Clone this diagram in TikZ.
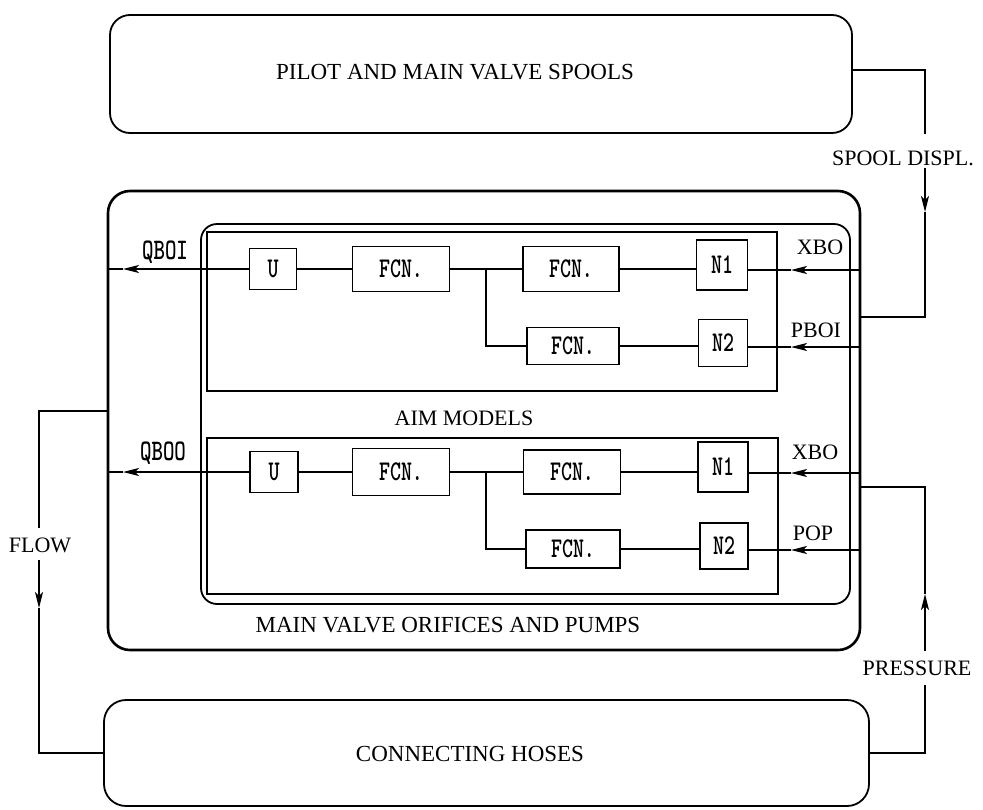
\documentclass[tikz,border=0pt]{standalone}
\usepackage{fontspec}
\usepackage{graphicx}
\setmainfont{Liberation Serif}
\usetikzlibrary{arrows.meta}

\newcommand{\titlefont}{\fontsize{23}{26}\selectfont}
\newcommand{\sigfont}{\fontsize{22}{24}\selectfont}
\newcommand{\blkfont}{\ttfamily\bfseries\fontsize{22}{24}\selectfont}
\newcommand{\qfont}{\ttfamily\bfseries\fontsize{23}{26}\selectfont}
\newcommand{\tall}[1]{\scalebox{0.95}[1.3]{#1}}

\begin{document}
\begin{tikzpicture}[x=1pt, y=-1pt,
  panel/.style={draw, line width=1.8pt, rounded corners=20pt},
  frame/.style={draw, line width=1.8pt},
  blk/.style={draw, line width=1.4pt, inner sep=0pt, font=\blkfont},
  link/.style={line width=1.3pt},
  tip/.style={-{Stealth[length=16pt,width=8pt,inset=4pt]}},
  lbl/.style={font=\sigfont, inner sep=2pt}]

  \useasboundingbox (0,0) rectangle (983,809);

  % big panels
  \node[panel, minimum width=742pt, minimum height=118pt] (pilot) at (481,74) {};
  \node[panel, line width=2.6pt, rounded corners=22pt,
    minimum width=752pt, minimum height=459pt] (mvop) at (484,420.5) {};
  \node[panel, rounded corners=16pt,
    minimum width=649pt, minimum height=380pt] (aim) at (525.5,414) {};
  \node[frame, minimum width=570pt, minimum height=159pt] (upper) at (492,311.5) {};
  \node[frame, minimum width=571pt, minimum height=156pt] (lower) at (492.5,516) {};
  \node[panel, rounded corners=22pt,
    minimum width=765pt, minimum height=106pt] (hoses) at (486.5,753) {};

  \node[font=\titlefont] (pilottxt) at (455,72) {PILOT AND MAIN VALVE SPOOLS};
  \node[font=\titlefont] (mvoptxt) at (448,625) {MAIN VALVE ORIFICES AND PUMPS};
  \node[font=\sigfont] (aimtxt) at (464,418) {AIM MODELS};
  \node[font=\titlefont] (hosetxt) at (470,754) {CONNECTING HOSES};

  % upper model
  \node[blk, minimum width=47pt, minimum height=41pt] (u1) at (273,269) {\tall{U}};
  \node[blk, minimum width=97pt, minimum height=45pt] (f1) at (401,269) {\tall{FCN.}};
  \node[blk, minimum width=96pt, minimum height=45pt] (f2) at (571,269) {\tall{FCN.}};
  \node[blk, minimum width=51pt, minimum height=50pt] (n1) at (722,265) {\tall{N1}};
  \node[blk, minimum width=92pt, minimum height=37pt] (f3) at (573,346) {\tall{FCN.}};
  \node[blk, minimum width=49pt, minimum height=47pt] (n2) at (723,343) {\tall{N2}};
  \coordinate (j1) at (486,269);
  \draw[link] (u1) -- (f1);
  \draw[link] (f1) -- (f2);
  \draw[link] (j1) |- (f3.west);
  \draw[link] (f2.east) -- (f2.east -| n1.west);
  \draw[link] (f3.east) -- (f3.east -| n2.west);

  % lower model
  \node[blk, minimum width=48pt, minimum height=41pt] (u2) at (274,472) {\tall{U}};
  \node[blk, minimum width=97pt, minimum height=47pt] (f4) at (401,472) {\tall{FCN.}};
  \node[blk, minimum width=97pt, minimum height=44pt] (f5) at (572,472) {\tall{FCN.}};
  \node[blk, minimum width=50pt, minimum height=50pt] (n3) at (723,467) {\tall{N1}};
  \node[blk, minimum width=94pt, minimum height=38pt] (f6) at (573,549) {\tall{FCN.}};
  \node[blk, minimum width=48pt, minimum height=46pt] (n4) at (724,546) {\tall{N2}};
  \coordinate (j2) at (486,472);
  \draw[link] (u2) -- (f4);
  \draw[link] (f4) -- (f5);
  \draw[link] (j2) |- (f6.west);
  \draw[link] (f5.east) -- (f5.east -| n3.west);
  \draw[link] (f6.east) -- (f6.east -| n4.west);

  % signals in and out
  \coordinate (q1tip) at (123,269);
  \coordinate (q2tip) at (123,472);
  \draw[link, tip] (u1.west) -- (q1tip);
  \draw[link] (q1tip) -- (q1tip -| mvop.west);
  \draw[link, tip] (u2.west) -- (q2tip);
  \draw[link] (q2tip) -- (q2tip -| mvop.west);
  \node[lbl, font=\qfont] (qboi) at (165,252) {\tall{QBOI}};
  \node[lbl, font=\qfont] (qboo) at (163,453) {\tall{QBOO}};

  \coordinate (x1tip) at (791,270);
  \coordinate (p1tip) at (791,347);
  \coordinate (x2tip) at (791,473);
  \coordinate (p2tip) at (791,550);
  \foreach \t/\n in {x1tip/n1, p1tip/n2, x2tip/n3, p2tip/n4} {
    \draw[link, tip] (\t -| mvop.east) -- (\t);
    \draw[link] (\t) -- (\t -| \n.east);
  }
  \node[lbl] (xbo1) at (820,247) {XBO};
  \node[lbl] (pboi) at (816,330) {PBOI};
  \node[lbl] (xbo2) at (815,452) {XBO};
  \node[lbl] (pop) at (813,533) {POP};

  % spool displacement loop
  \node[lbl, anchor=base, inner ysep=3pt, text height=28pt, text depth=0pt] (spool) at (903,165) {SPOOL DISPL.};
  \coordinate (sdx) at (925,317);
  \coordinate (sdtip) at (925,212);
  \draw[line width=1.8pt] ([yshift=4pt]pilot.east) -| (sdx |- spool.north);
  \draw[line width=1.5pt, tip] (sdx |- spool.south) -- (sdtip);
  \draw[line width=1.5pt] (sdtip) -- (sdx) -- (sdx -| mvop.east);

  % pressure loop
  \node[lbl, anchor=base, inner ysep=3pt, text height=21pt, text depth=7pt] (press) at (917,675) {PRESSURE};
  \coordinate (prx) at (925,487);
  \coordinate (prtip) at (925,594);
  \draw[line width=1.6pt] (hoses.east) -| (prx |- press.south);
  \draw[link, tip] (prx |- press.north) -- (prtip);
  \draw[link] (prtip) -- (prx) -- (prx -| mvop.east);

  % flow loop
  \node[lbl, anchor=base, inner ysep=3pt, text height=21pt, text depth=5pt] (flow) at (40,552) {FLOW};
  \coordinate (flx) at (39,411);
  \coordinate (fltip) at (39,608);
  \draw[link] (flx -| mvop.west) -- (flx) -- (flx |- flow.north);
  \draw[link, tip] (flx |- flow.south) -- (fltip);
  \draw[link] (fltip) |- (hoses.west);
\end{tikzpicture}
\end{document}
